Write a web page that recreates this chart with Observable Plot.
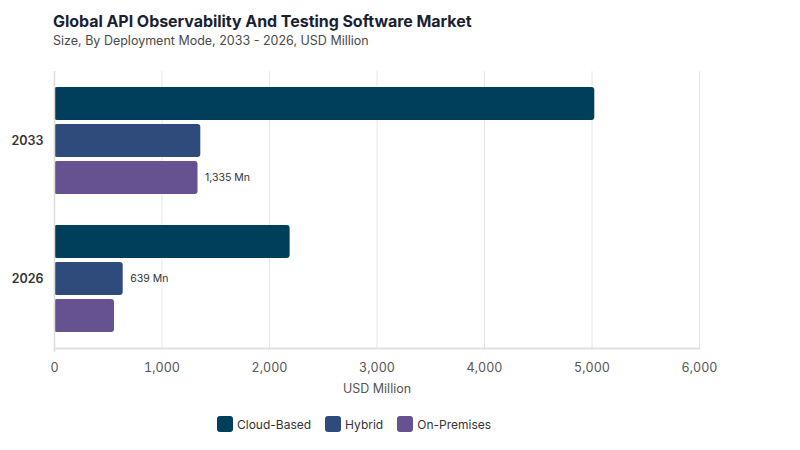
<!DOCTYPE html>
<html>
<head>
<meta charset="utf-8">
<script src="https://cdn.jsdelivr.net/npm/d3@7"></script>
<script src="https://cdn.jsdelivr.net/npm/@observablehq/plot@0.6"></script>
<style>
  html, body { margin: 0; padding: 0; background: #fff; }
  body { width: 800px; height: 450px; position: relative; overflow: hidden; font-family: Inter, "Noto Sans", sans-serif; }
  #title { position: absolute; left: 53px; top: 11px; font-size: 16px; font-weight: 700; color: #1c1f33; letter-spacing: -0.05px; white-space: nowrap; }
  #subtitle { position: absolute; left: 53px; top: 33px; font-size: 12.5px; color: #4a4a4a; white-space: nowrap; }
  #chart { position: absolute; left: 0; top: 56px; }
  #legend { position: absolute; left: 217px; top: 416px; display: flex; align-items: center; font-size: 12px; color: #333; }
  .item { display: flex; align-items: center; margin-right: 14px; }
  .sw { width: 16px; height: 16px; border-radius: 3px; margin-right: 4px; }
</style>
</head>
<body>
<div id="title">Global API Observability And Testing Software Market</div>
<div id="subtitle">Size, By Deployment Mode, 2033 - 2026, USD Million</div>
<div id="chart"></div>
<div id="legend"></div>
<script>
const years = ["2033", "2026"];
const series = ["Cloud-Based", "Hybrid", "On-Premises"];
const cloudBased = [5026, 2192];
const hybrid = [1361, 639];
const onPremises = [1335, 558];
const colors = ["#003f5c", "#2f4b7c", "#665191"];
const xTicks = [0, 1000, 2000, 3000, 4000, 5000, 6000];
const xLabel = "USD Million";
const labeledBars = [["2033", "On-Premises"], ["2026", "Hybrid"]];

const valuesBySeries = [cloudBased, hybrid, onPremises];
const rows = [];
series.forEach((s, si) => years.forEach((y, yi) => rows.push({series: s, year: y, value: valuesBySeries[si][yi]})));
const isLabeled = d => labeledBars.some(([y, s]) => y === d.year && s === d.series);

const step = 37;
const marks = [
  Plot.gridX(xTicks, {stroke: "#e6e6e6", strokeOpacity: 1})
];
series.forEach((s, i) => {
  const data = rows.filter(d => d.series === s);
  const dy = (i - 1) * step;
  marks.push(Plot.barX(data, {x: "value", y: "year", fill: "series", dy, rx: 3}));
  marks.push(Plot.text(data.filter(isLabeled), {
    x: "value", y: "year", dy, dx: 7, text: d => d3.format(",")(d.value) + " Mn",
    textAnchor: "start", fontSize: 10.5, fill: "#333"
  }));
});
marks.push(Plot.ruleX([0], {stroke: "#dcdcdc", strokeWidth: 1.5, insetBottom: -4}));
marks.push(Plot.frame({anchor: "bottom", stroke: "#e0e0e0", strokeWidth: 2}));
marks.push(Plot.axisY({tickSize: 0, tickPadding: 11, fontSize: 12.5, fontWeight: 600, fill: "#333", label: null}));
marks.push(Plot.axisX(xTicks, {tickSize: 0, tickPadding: 15, fontSize: 12.5, fill: "#555", tickFormat: d3.format(","),
  label: xLabel, labelAnchor: "center", labelArrow: "none", labelOffset: 44}));

const chart = Plot.plot({
  width: 800, height: 344,
  marginTop: 15, marginBottom: 52, marginLeft: 54, marginRight: 101,
  style: {fontFamily: "Inter, 'Noto Sans', sans-serif", color: "#555", background: "transparent"},
  x: {domain: [0, 6000]},
  y: {domain: years, paddingInner: 0.763, paddingOuter: 0.383},
  color: {domain: series, range: colors},
  marks
});
document.getElementById("chart").appendChild(chart);

const legend = document.getElementById("legend");
series.forEach((s, i) => {
  const item = document.createElement("div");
  item.className = "item";
  const sw = document.createElement("div");
  sw.className = "sw";
  sw.style.background = colors[i];
  const t = document.createElement("span");
  t.textContent = s;
  item.appendChild(sw); item.appendChild(t);
  legend.appendChild(item);
});
</script>
</body>
</html>
